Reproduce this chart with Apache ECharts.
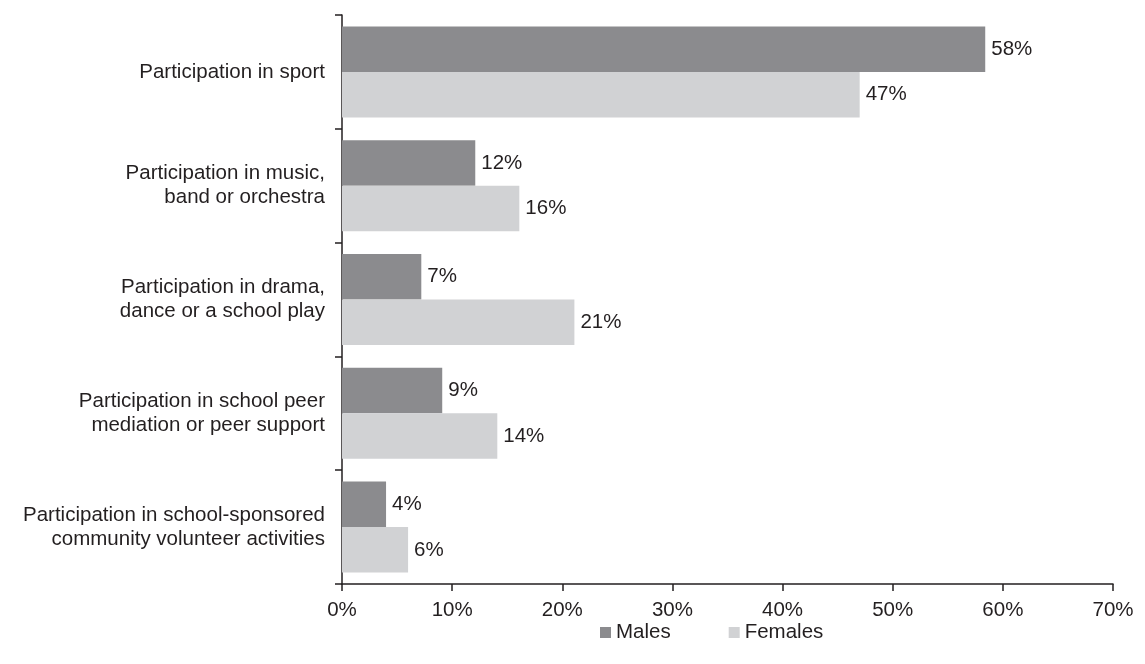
<!DOCTYPE html>
<html>
<head>
<meta charset="utf-8">
<script src="https://cdn.jsdelivr.net/npm/echarts@6/dist/echarts.min.js"></script>
<style>html,body{margin:0;padding:0;background:#fff;}#c{width:1145px;height:664px;}</style>
</head>
<body>
<div id="c"></div>
<script>
const categories = [
  "Participation in sport",
  "Participation in music,\nband or orchestra",
  "Participation in drama,\ndance or a school play",
  "Participation in school peer\nmediation or peer support",
  "Participation in school-sponsored\ncommunity volunteer activities"
];
const males = [58.4, 12.1, 7.2, 9.1, 4.0];
const females = [47.0, 16.1, 21.1, 14.1, 6.0];
const xTicks = [0, 10, 20, 30, 40, 50, 60, 70];

const textColor = '#231f20';
const font = 'Liberation Sans, Arial, Helvetica, sans-serif';
const chart = echarts.init(document.getElementById('c'));
const labelOpt = {
  show: true, position: 'right', distance: 6,
  color: textColor, fontSize: 20.5, fontFamily: font,
  formatter: p => Math.round(p.value) + '%'
};
chart.setOption({
  animation: false,
  textStyle: {fontFamily: font},
  grid: {left: 342, right: 32, top: 15, bottom: 80, containLabel: false},
  legend: {
    data: ['Males', 'Females'], left: 595, top: 617,
    itemWidth: 11, itemHeight: 11, itemGap: 58, icon: 'rect',
    textStyle: {color: textColor, fontSize: 20.5, fontFamily: font}
  },
  xAxis: {
    type: 'value', min: xTicks[0], max: xTicks[xTicks.length - 1], interval: 10,
    splitLine: {show: false},
    axisLine: {show: true, lineStyle: {color: textColor, width: 1.5}},
    axisTick: {show: true, length: 7, lineStyle: {color: textColor, width: 1.5}},
    axisLabel: {color: textColor, fontSize: 20.5, fontFamily: font, margin: 16, formatter: v => v + '%'}
  },
  yAxis: {
    type: 'category', data: categories, inverse: true,
    axisLine: {show: true, lineStyle: {color: textColor, width: 1.5}},
    axisTick: {show: true, length: 7, lineStyle: {color: textColor, width: 1.5}},
    axisLabel: {color: textColor, fontSize: 20.5, fontFamily: font, margin: 17, lineHeight: 24, align: 'right'}
  },
  series: [
    {name: 'Males', type: 'bar', data: males, barWidth: '40%', barGap: '0%',
     itemStyle: {color: '#8b8b8e'}, label: labelOpt},
    {name: 'Females', type: 'bar', data: females, barWidth: '40%', barGap: '0%',
     itemStyle: {color: '#d1d2d4'}, label: labelOpt}
  ]
});
</script>
</body>
</html>
